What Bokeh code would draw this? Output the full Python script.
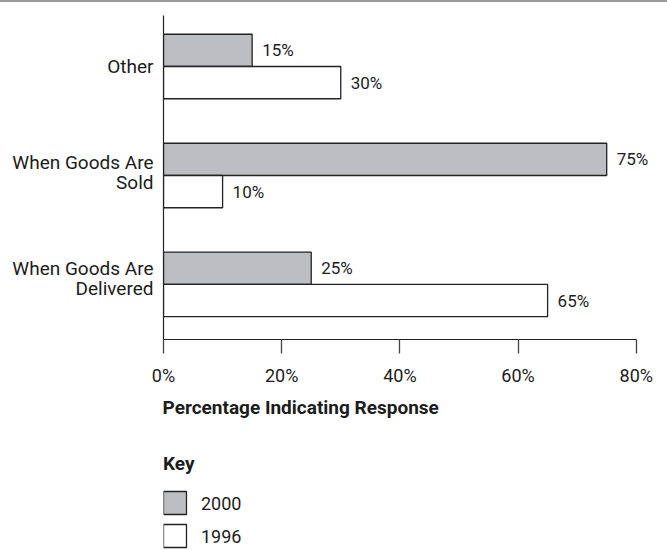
from bokeh.plotting import figure
from bokeh.models import (ColumnDataSource, FixedTicker, LabelSet, Title,
                          Div, Range1d)
from bokeh.core.properties import value
from bokeh.layouts import column
from bokeh.embed import file_html
from bokeh.resources import INLINE

# ---- data (bottom to top) ----
categories = ["When Goods Are Delivered", "When Goods Are Sold", "Other"]
category_labels = ["When Goods Are\nDelivered", "When Goods Are\nSold", "Other"]
values_2000 = [25, 75, 15]
values_1996 = [65, 10, 30]
series_names = ["2000", "1996"]
x_ticks = [0, 20, 40, 60, 80]
x_tick_labels = ["0%", "20%", "40%", "60%", "80%"]
x_title = "Percentage Indicating Response"
key_title = "Key"

# ---- styles ----
FONT = "Roboto"
TXT = "#1c1c1c"
LINE = "#222222"
GRAY = "#bdbec1"
BAR_H = 0.296
series_fill = [GRAY, "white"]

pos = list(range(len(categories)))

src_2000 = ColumnDataSource(dict(
    y=[p_ + BAR_H / 2 for p_ in pos], right=values_2000,
    label=[f"{v}%" for v in values_2000]))
src_1996 = ColumnDataSource(dict(
    y=[p_ - BAR_H / 2 for p_ in pos], right=values_1996,
    label=[f"{v}%" for v in values_1996]))

p = figure(width=667, height=430, output_backend="svg", toolbar_location=None,
           x_range=(0, 85.29), y_range=(-0.505, 2.468),
           min_border_left=163, min_border_right=0,
           min_border_top=13, min_border_bottom=93)
p.outline_line_color = None
p.xgrid.visible = False
p.ygrid.visible = False
p.background_fill_color = "white"
p.border_fill_color = "white"

for src, fill in ((src_2000, series_fill[0]), (src_1996, series_fill[1])):
    p.hbar(y="y", left=0, right="right", height=BAR_H, source=src,
           fill_color=fill, line_color=LINE, line_width=1.3)
    p.add_layout(LabelSet(x="right", y="y", text="label", source=src,
                          x_offset=10, text_baseline="middle",
                          text_font=value(FONT), text_font_size="17px",
                          text_color=TXT))

# x axis
xa = p.xaxis[0]
xa.bounds = (0, 80)
xa.ticker = FixedTicker(ticks=x_ticks)
xa.major_label_overrides = {t: l for t, l in zip(x_ticks, x_tick_labels)}
xa.minor_tick_line_color = None
xa.major_tick_in = 0
xa.major_tick_out = 14
xa.major_tick_line_color = "#444444"
xa.major_tick_line_width = 1.3
xa.axis_line_color = LINE
xa.axis_line_width = 1.2
xa.major_label_text_font = FONT
xa.major_label_text_font_size = "18px"
xa.major_label_text_color = TXT
xa.major_label_standoff = 11

# y axis
ya = p.yaxis[0]
label_shift = {0: 0.055, 1: 0.028, 2: 0.0}
y_ticks = [p_ + label_shift[p_] for p_ in pos]
ya.ticker = FixedTicker(ticks=y_ticks)
ya.major_label_overrides = {t: l for t, l in zip(y_ticks, category_labels)}
ya.minor_tick_line_color = None
ya.major_tick_line_color = None
ya.major_tick_in = 0
ya.major_tick_out = 0
ya.axis_line_color = LINE
ya.axis_line_width = 1.2
ya.major_label_text_font = FONT
ya.major_label_text_font_size = "19px"
ya.major_label_text_line_height = 0.9
ya.major_label_text_color = TXT
ya.major_label_standoff = 10

# x-axis title, left aligned under the axis
p.add_layout(Title(text=x_title, align="left", offset=-1,
                   text_font=FONT, text_font_size="19px",
                   text_font_style="bold", text_color=TXT,
                   standoff=10), "below")

# ---- key strip below the chart (pixel-like coordinates, y downward) ----
KEY_H = 118
k = figure(width=667, height=KEY_H, output_backend="svg",
           toolbar_location=None,
           x_range=Range1d(0, 504.3), y_range=Range1d(KEY_H, 0),
           min_border=0)
k.axis.visible = False
k.grid.visible = False
k.outline_line_color = None
k.background_fill_color = "white"
k.border_fill_color = "white"

SW = 23          # swatch size
ROW0 = 59        # top of first swatch
ROW_STEP = 33    # distance between rows
tops = [ROW0 + i * ROW_STEP for i in range(len(series_names))]
key_src = ColumnDataSource(dict(
    left=[0] * len(series_names), right=[SW] * len(series_names),
    top=tops, bottom=[t + SW for t in tops], fill=series_fill,
    tx=[SW + 14.5] * len(series_names), ty=[t + SW / 2 for t in tops],
    label=series_names))
k.quad(left="left", right="right", top="top", bottom="bottom",
       fill_color="fill", line_color=LINE, line_width=1.3, source=key_src)
k.text(x="tx", y="ty", text="label", source=key_src,
       text_font=value(FONT), text_font_size="18px", text_color=TXT,
       text_baseline="middle")
k.text(x=[-0.5], y=[31], text=[key_title], text_font=value(FONT),
       text_font_size="19px", text_font_style="bold", text_color=TXT,
       text_baseline="middle")

top_rule = Div(text="", width=667, height=2, margin=0,
               styles={"background-color": "#9b9b9b"})

layout = column(top_rule, p, k, spacing=0)
open("out.html", "w").write(file_html(layout, INLINE))
